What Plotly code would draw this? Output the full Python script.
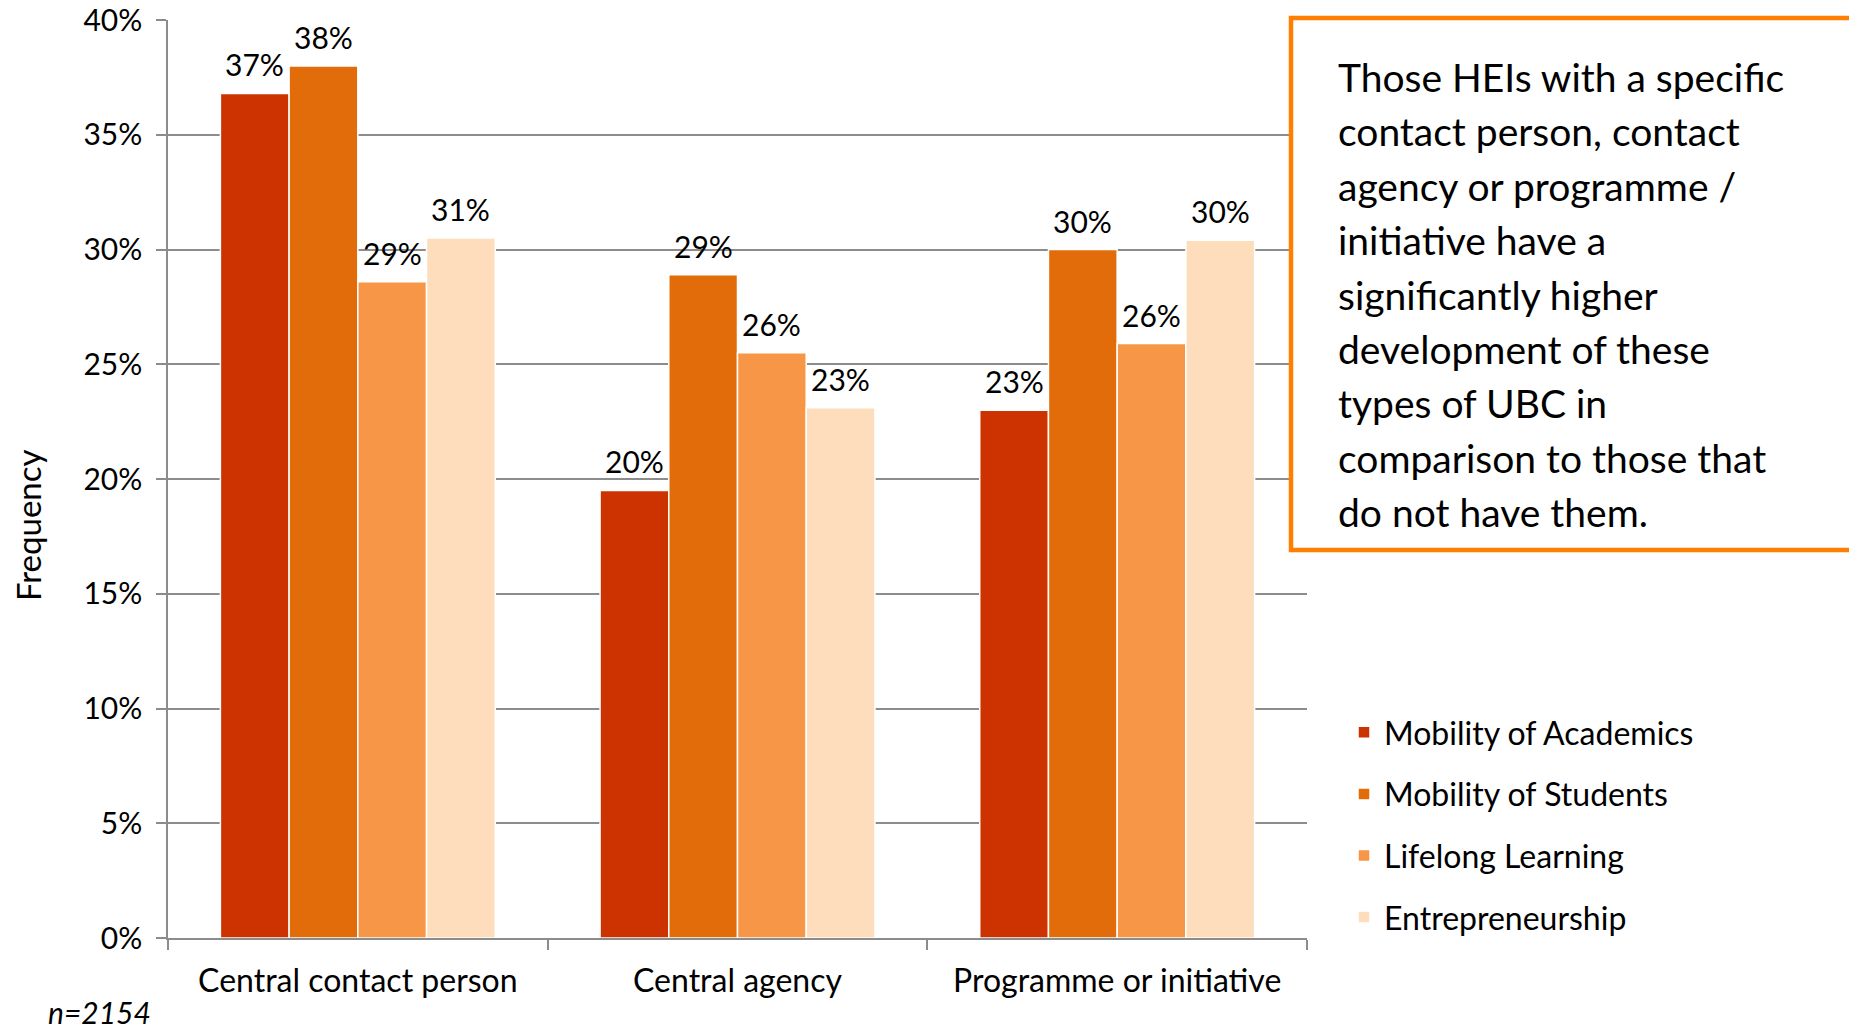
import math
import plotly.graph_objects as go

# Grouped bar chart: share of HEIs by support structure and type of UBC
categories = ["Central contact person", "Central agency", "Programme or initiative"]
series_names = ["Mobility of Academics", "Mobility of Students", "Lifelong Learning", "Entrepreneurship"]
academics = [36.8, 19.5, 23.0]
students = [38.0, 28.9, 30.0]
lifelong = [28.6, 25.5, 25.9]
entrepreneurship = [30.5, 23.1, 30.4]
series_values = [academics, students, lifelong, entrepreneurship]
colors = ["#CC3300", "#E36C0A", "#F79646", "#FDDDBC"]
y_ticks = [0, 5, 10, 15, 20, 25, 30, 35, 40]

note_lines = [
    "Those HEIs with a specific",
    "contact person, contact",
    "agency or programme /",
    "initiative have a",
    "significantly higher",
    "development of these",
    "types of UBC in",
    "comparison to those that",
    "do not have them.",
]
sample_note = "n=2154"
y_title = "Frequency"

FONT = "Lato"
W, H = 1849, 1032
L, R, T, B = 168, 542, 20, 94
PW = W - L - R
PH = H - T - B
BARGAP = 0.276
N_SERIES = len(series_names)
BAR_W = PW / len(categories) * (1 - BARGAP) / N_SERIES


def px_x(px):
    return (px - L) / PW


def px_y(py):
    return 1 - (py - T) / PH


fig = go.Figure()
for name, vals, col in zip(series_names, series_values, colors):
    fig.add_trace(go.Bar(
        x=categories, y=vals, name=name, legendgroup=name,
        marker=dict(color=col, line=dict(color="white", width=1.5)),
    ))

# Value labels sitting above each bar
for i, vals in enumerate(series_values):
    for cat, v in zip(categories, vals):
        fig.add_annotation(
            x=cat, y=v, xref="x", yref="y",
            text=f"{math.floor(v + 0.5)}%", showarrow=False,
            xanchor="center", yanchor="middle",
            xshift=(i - (N_SERIES - 1) / 2) * BAR_W, yshift=29,
            font=dict(family=FONT, size=30, color="black"),
        )

fig.update_layout(
    width=W, height=H,
    margin=dict(l=L, r=R, t=T, b=B, autoexpand=False),
    paper_bgcolor="white", plot_bgcolor="white",
    barmode="group", bargap=BARGAP, bargroupgap=0,
    font=dict(family=FONT, color="black"),
    legend=dict(
        x=px_x(1344), y=px_y(705), xanchor="left", yanchor="top",
        font=dict(family=FONT, size=32, color="black"),
        tracegroupgap=17, itemwidth=30,
    ),
)

fig.update_yaxes(
    range=[0, 40], tickvals=y_ticks, ticktext=[f"{v}%" for v in y_ticks],
    automargin=False,
    showgrid=True, gridcolor="#8C8C8C", gridwidth=1.5,
    showline=True, linecolor="#8C8C8C", linewidth=1.5,
    ticks="outside", ticklen=10, tickcolor="#8C8C8C", tickwidth=1.5,
    tickfont=dict(family=FONT, size=30, color="black"),
    ticklabelstandoff=8,
    zeroline=False,
)
fig.update_xaxes(
    automargin=False,
    showgrid=False, tickson="boundaries",
    showline=True, linecolor="#8C8C8C", linewidth=1.5,
    ticks="outside", ticklen=10, tickcolor="#8C8C8C", tickwidth=1.5,
    tickfont=dict(family=FONT, size=32, color="black"),
    ticklabelstandoff=14,
)

# Vertical axis title
fig.add_annotation(
    xref="paper", yref="paper", x=px_x(28), y=px_y(525),
    text=y_title, textangle=-90, showarrow=False,
    xanchor="center", yanchor="middle",
    font=dict(family=FONT, size=33, color="black"),
)

# Callout box with the key finding, running off the right edge
fig.add_shape(
    type="rect", xref="paper", yref="paper",
    x0=px_x(1291), x1=px_x(1870), y0=px_y(18), y1=px_y(550),
    line=dict(color="#FF8000", width=4.5), fillcolor="white", layer="above",
)
for i, line in enumerate(note_lines):
    fig.add_annotation(
        xref="paper", yref="paper", x=px_x(1336), y=px_y(77 + 54.4 * i),
        text=line, showarrow=False, xanchor="left", yanchor="middle",
        font=dict(family=FONT, size=39, color="black"),
    )

fig.add_annotation(
    xref="paper", yref="paper", x=px_x(46), y=px_y(1012),
    text=f"<i>{sample_note}</i>", showarrow=False, xanchor="left", yanchor="middle",
    font=dict(family=FONT, size=30, color="black"),
)

fig.write_html("out.html")
